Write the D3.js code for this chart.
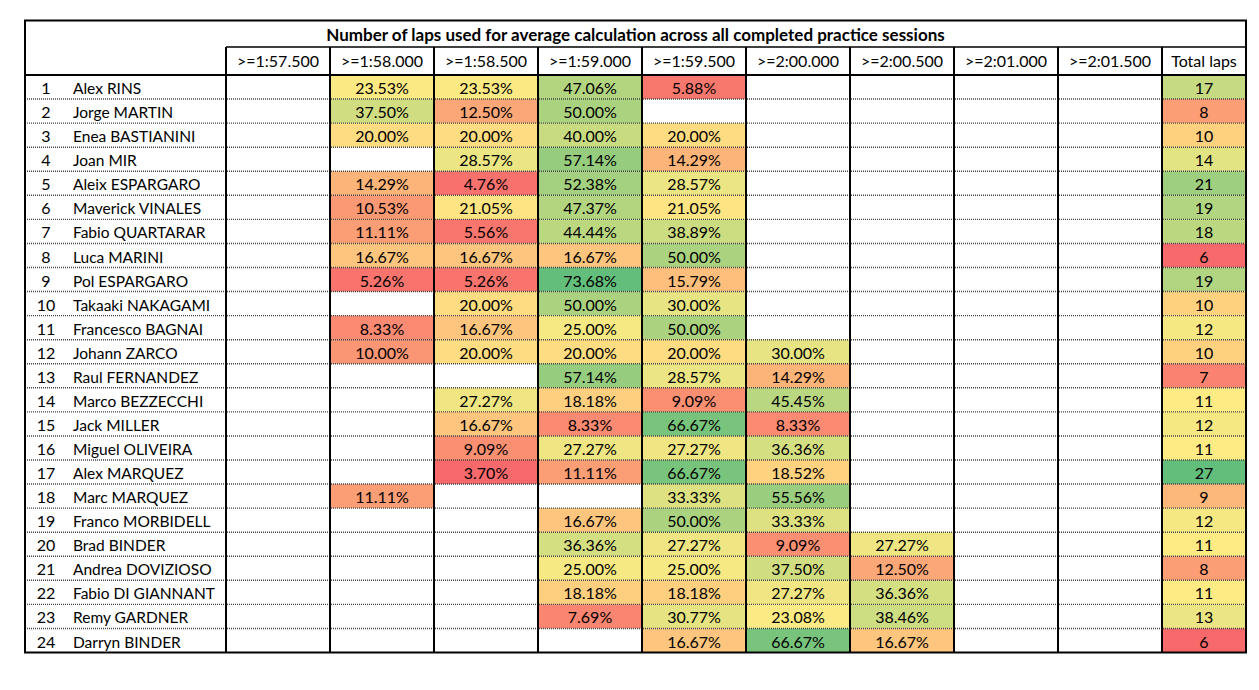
<!DOCTYPE html>
<html>
<head>
<meta charset="utf-8">
<script src="https://cdn.jsdelivr.net/npm/d3@7"></script>
<style>
  html, body { margin: 0; padding: 0; background: #fff; }
  svg { display: block; }
  text { font-family: Lato, "Open Sans", sans-serif; fill: #000; }
</style>
</head>
<body>
<svg id="chart" width="1259" height="690"></svg>
<script>
// ---- data ----
const title = "Number of laps used for average calculation across all completed practice sessions";
const bins = [">=1:57.500", ">=1:58.000", ">=1:58.500", ">=1:59.000", ">=1:59.500",
              ">=2:00.000", ">=2:00.500", ">=2:01.000", ">=2:01.500"];
const totalLabel = "Total laps";
const riders = ["Alex RINS", "Jorge MARTIN", "Enea BASTIANINI", "Joan MIR", "Aleix ESPARGARO",
  "Maverick VINALES", "Fabio QUARTARAR", "Luca MARINI", "Pol ESPARGARO", "Takaaki NAKAGAMI",
  "Francesco BAGNAI", "Johann ZARCO", "Raul FERNANDEZ", "Marco BEZZECCHI", "Jack MILLER",
  "Miguel OLIVEIRA", "Alex MARQUEZ", "Marc MARQUEZ", "Franco MORBIDELL", "Brad BINDER",
  "Andrea DOVIZIOSO", "Fabio DI GIANNANT", "Remy GARDNER", "Darryn BINDER"];
// share of laps (%) per time bin, null = empty cell
const shares = [
  [null, 23.53, 23.53, 47.06, 5.88, null, null, null, null],
  [null, 37.50, 12.50, 50.00, null, null, null, null, null],
  [null, 20.00, 20.00, 40.00, 20.00, null, null, null, null],
  [null, null, 28.57, 57.14, 14.29, null, null, null, null],
  [null, 14.29, 4.76, 52.38, 28.57, null, null, null, null],
  [null, 10.53, 21.05, 47.37, 21.05, null, null, null, null],
  [null, 11.11, 5.56, 44.44, 38.89, null, null, null, null],
  [null, 16.67, 16.67, 16.67, 50.00, null, null, null, null],
  [null, 5.26, 5.26, 73.68, 15.79, null, null, null, null],
  [null, null, 20.00, 50.00, 30.00, null, null, null, null],
  [null, 8.33, 16.67, 25.00, 50.00, null, null, null, null],
  [null, 10.00, 20.00, 20.00, 20.00, 30.00, null, null, null],
  [null, null, null, 57.14, 28.57, 14.29, null, null, null],
  [null, null, 27.27, 18.18, 9.09, 45.45, null, null, null],
  [null, null, 16.67, 8.33, 66.67, 8.33, null, null, null],
  [null, null, 9.09, 27.27, 27.27, 36.36, null, null, null],
  [null, null, 3.70, 11.11, 66.67, 18.52, null, null, null],
  [null, 11.11, null, null, 33.33, 55.56, null, null, null],
  [null, null, null, 16.67, 50.00, 33.33, null, null, null],
  [null, null, null, 36.36, 27.27, 9.09, 27.27, null, null],
  [null, null, null, 25.00, 25.00, 37.50, 12.50, null, null],
  [null, null, null, 18.18, 18.18, 27.27, 36.36, null, null],
  [null, null, null, 7.69, 30.77, 23.08, 38.46, null, null],
  [null, null, null, null, 16.67, 66.67, 16.67, null, null]
];
const totals = [17, 8, 10, 14, 21, 19, 18, 6, 19, 10, 12, 10, 7, 11, 12, 11, 27, 9, 12, 11, 8, 11, 13, 6];

// ---- layout ----
const L = 25, R = 1246, T = 20.5, HDR = 47, BODY = 75, B = 652.5;
const gridLeft = 226, totalLeft = 1162;

const svg = d3.select("#chart");

const x = d3.scaleBand().domain(bins).range([gridLeft, totalLeft]).padding(0);
const y = d3.scaleBand().domain(d3.range(riders.length)).range([BODY, B]).padding(0);

// colour scales (Excel 3-colour: min red, 50th percentile yellow, max green)
const allShares = shares.flat().filter(v => v != null).sort(d3.ascending);
const shareColor = d3.scaleLinear()
  .domain([d3.min(allShares), d3.quantileSorted(allShares, 0.5), d3.max(allShares)])
  .range(["#F8696B", "#FFEB84", "#63BE7B"]).interpolate(d3.interpolateRgb);
const sortedTotals = totals.slice().sort(d3.ascending);
const totalColor = d3.scaleLinear()
  .domain([d3.min(totals), d3.quantileSorted(sortedTotals, 0.5), d3.max(totals)])
  .range(["#F8696B", "#FFEB84", "#63BE7B"]).interpolate(d3.interpolateRgb);

// cells
const cells = [];
shares.forEach((row, i) => row.forEach((v, j) => { if (v != null) cells.push({ i, bin: bins[j], v }); }));

const gCells = svg.append("g");
gCells.selectAll("rect.cell").data(cells).join("rect")
  .attr("class", "cell")
  .attr("x", d => x(d.bin)).attr("y", d => y(d.i))
  .attr("width", x.bandwidth()).attr("height", y.bandwidth())
  .attr("fill", d => shareColor(d.v));
gCells.selectAll("rect.tot").data(totals).join("rect")
  .attr("class", "tot")
  .attr("x", totalLeft).attr("y", (d, i) => y(i))
  .attr("width", R - totalLeft).attr("height", y.bandwidth())
  .attr("fill", d => totalColor(d));

// dotted row separators
svg.append("g").selectAll("line").data(d3.range(1, riders.length)).join("line")
  .attr("x1", L).attr("x2", R)
  .attr("y1", i => y(i)).attr("y2", i => y(i))
  .attr("stroke", "#444").attr("stroke-width", 1.4).attr("stroke-dasharray", "1,1");

// texts
const gText = svg.append("g").attr("font-size", 16);
gText.selectAll("text.cellv").data(cells).join("text")
  .attr("class", "cellv")
  .attr("x", d => x(d.bin) + x.bandwidth() / 2)
  .attr("y", d => y(d.i) + y.bandwidth() - 5)
  .attr("text-anchor", "middle")
  .text(d => d.v.toFixed(2) + "%");
gText.selectAll("text.totv").data(totals).join("text")
  .attr("class", "totv")
  .attr("x", (totalLeft + R) / 2).attr("y", (d, i) => y(i) + y.bandwidth() - 5)
  .attr("text-anchor", "middle").text(d => d);
gText.selectAll("text.num").data(riders).join("text")
  .attr("class", "num")
  .attr("x", 46).attr("y", (d, i) => y(i) + y.bandwidth() - 5)
  .attr("text-anchor", "middle").text((d, i) => i + 1);
gText.selectAll("text.name").data(riders).join("text")
  .attr("class", "name")
  .attr("x", 73).attr("y", (d, i) => y(i) + y.bandwidth() - 5)
  .attr("font-size", 15.5)
  .text(d => d);
// header
gText.selectAll("text.hdr").data(bins).join("text")
  .attr("class", "hdr")
  .attr("x", d => x(d) + x.bandwidth() / 2).attr("y", 67)
  .attr("text-anchor", "middle").text(d => d);
gText.append("text").attr("x", (totalLeft + R) / 2).attr("y", 67)
  .attr("text-anchor", "middle").text(totalLabel);
// title
svg.append("text").attr("x", (L + R) / 2).attr("y", 41)
  .attr("text-anchor", "middle").attr("font-size", 17).attr("font-weight", "bold")
  .text(title);

// solid borders
const gB = svg.append("g").attr("stroke", "#000").attr("fill", "none");
gB.append("line").attr("x1", gridLeft).attr("x2", R).attr("y1", HDR).attr("y2", HDR).attr("stroke-width", 1.5);
gB.append("line").attr("x1", L).attr("x2", R).attr("y1", BODY).attr("y2", BODY).attr("stroke-width", 2);
gB.selectAll("line.v").data(bins.concat([totalLabel])).join("line")
  .attr("class", "v")
  .attr("x1", d => d === totalLabel ? totalLeft : x(d))
  .attr("x2", d => d === totalLabel ? totalLeft : x(d))
  .attr("y1", HDR).attr("y2", B).attr("stroke-width", 2);
gB.append("rect").attr("x", L).attr("y", T).attr("width", R - L).attr("height", B - T).attr("stroke-width", 2);
</script>
</body>
</html>
